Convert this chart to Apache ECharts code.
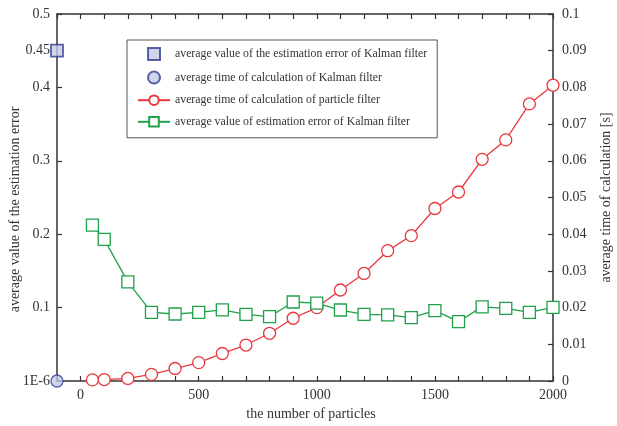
<!DOCTYPE html>
<html>
<head>
<meta charset="utf-8">
<script src="https://cdn.jsdelivr.net/npm/echarts@6/dist/echarts.min.js"></script>
<style>
html, body { margin: 0; padding: 0; background: #fff; }
#chart { width: 617px; height: 426px; }
</style>
</head>
<body>
<div id="chart"></div>
<script>
// particle counts
var particles = [50, 100, 200, 300, 400, 500, 600, 700, 800, 900, 1000,
    1100, 1200, 1300, 1400, 1500, 1600, 1700, 1800, 1900, 2000];
// average time of calculation of particle filter [s] (right axis)
var pfTime = [0.0003, 0.0004, 0.0007, 0.0018, 0.0034, 0.005, 0.0075, 0.0098, 0.013, 0.0171, 0.020,
    0.0248, 0.0293, 0.0355, 0.0396, 0.047, 0.0515, 0.0604, 0.0657, 0.0755, 0.0806];
// average value of estimation error (left axis)
var pfError = [0.2125, 0.193, 0.135, 0.0936, 0.0913, 0.0936, 0.097, 0.0908, 0.0876, 0.1076, 0.106,
    0.0967, 0.0908, 0.090, 0.0863, 0.0958, 0.081, 0.101, 0.099, 0.0936, 0.1004];
// Kalman filter reference points, drawn on the left axis
var kalmanX = -100;
var kalmanError = 0.45;
var kalmanTime = 0;

var leftLabels = [0, 0.1, 0.2, 0.3, 0.4, 0.45, 0.5];
var leftTicks = [0, 0.1, 0.2, 0.3, 0.4, 0.5];
var xLabels = [0, 500, 1000, 1500, 2000];

var names = [
    'average value of the estimation error of Kalman filter',
    'average time of calculation of Kalman filter',
    'average time of calculation of particle filter',
    'average value of estimation error of Kalman filter'
];

var font = 'Liberation Serif';
var ink = '#333';
var red = '#e8383d';
var green = '#1fa04a';
var navy = '#2f3c94';
var lilac = '#c5c9e6';

var axisLine = {show: true, onZero: false, lineStyle: {color: ink, width: 1.5}};
var tick = {inside: true, length: 5, lineStyle: {color: ink, width: 1.2}};

var option = {
    animation: false,
    textStyle: {fontFamily: font},
    grid: {left: 57, right: 64, top: 14, bottom: 45, outerBoundsMode: 'none'},
    legend: {
        orient: 'vertical',
        left: 127,
        top: 40,
        padding: [7, 10, 10, 10],
        itemWidth: 32,
        itemHeight: 12,
        itemGap: 9.6,
        borderColor: '#555',
        borderWidth: 1,
        textStyle: {fontFamily: font, fontSize: 11.8, color: ink},
        data: [
            // square icon kept 12x12 inside the 32px slot
            {name: names[0], icon: 'path://M0,0M32,12M10,0L22,0L22,12L10,12Z'},
            names[1], names[2], names[3]
        ]
    },
    xAxis: [
        {
            type: 'value',
            min: -100,
            max: 2000,
            interval: 100,
            name: 'the number of particles',
            nameLocation: 'middle',
            nameGap: 22,
            nameTextStyle: {fontFamily: font, fontSize: 14, color: ink, padding: [0, 0, 0, 12]},
            axisLine: axisLine,
            axisTick: tick,
            axisLabel: {
                customValues: xLabels, fontFamily: font, fontSize: 14, color: ink, margin: 7,
                formatter: function (v) { return String(v); }
            },
            splitLine: {show: false}
        },
        {
            type: 'value',
            position: 'top',
            min: -100,
            max: 2000,
            interval: 100,
            axisLine: axisLine,
            axisTick: tick,
            axisLabel: {show: false},
            splitLine: {show: false}
        }
    ],
    yAxis: [
        {
            type: 'value',
            min: 0,
            max: 0.5,
            name: 'average value of the estimation error',
            nameLocation: 'middle',
            nameGap: 35,
            nameMoveOverlap: false,
            nameTextStyle: {fontFamily: font, fontSize: 14, color: ink, padding: [0, 24, 0, 0]},
            axisLine: axisLine,
            axisTick: Object.assign({customValues: leftTicks}, tick),
            axisLabel: {
                customValues: leftLabels,
                fontFamily: font, fontSize: 14, color: ink, margin: 7,
                formatter: function (v) { return v === 0 ? '1E-6' : String(v); }
            },
            splitLine: {show: false}
        },
        {
            type: 'value',
            position: 'right',
            min: 0,
            max: 0.1,
            interval: 0.01,
            name: 'average time of calculation [s]',
            nameLocation: 'middle',
            nameGap: 46,
            nameTextStyle: {fontFamily: font, fontSize: 14, color: ink},
            axisLine: axisLine,
            axisTick: tick,
            axisLabel: {
                fontFamily: font, fontSize: 14, color: ink, margin: 9,
                formatter: function (v) { return String(+v.toFixed(2)); }
            },
            splitLine: {show: false}
        }
    ],
    series: [
        {
            name: names[0],
            type: 'scatter',
            clip: false,
            symbol: 'rect',
            symbolSize: 12,
            itemStyle: {color: lilac, borderColor: navy, borderWidth: 1.8},
            data: [[kalmanX, kalmanError]],
            z: 5
        },
        {
            name: names[1],
            type: 'scatter',
            clip: false,
            symbol: 'circle',
            symbolSize: 12,
            itemStyle: {color: lilac, borderColor: navy, borderWidth: 1.3},
            data: [[kalmanX, kalmanTime]],
            z: 5
        },
        {
            name: names[2],
            type: 'line',
            yAxisIndex: 1,
            symbol: 'circle',
            symbolSize: 12,
            showAllSymbol: true,
            lineStyle: {color: red, width: 1.3},
            itemStyle: {color: '#fff', borderColor: red, borderWidth: 1.3},
            data: particles.map(function (p, i) { return [p, pfTime[i]]; })
        },
        {
            name: names[3],
            type: 'line',
            yAxisIndex: 0,
            symbol: 'rect',
            symbolSize: 12,
            showAllSymbol: true,
            lineStyle: {color: green, width: 1.3},
            itemStyle: {color: '#fff', borderColor: green, borderWidth: 1.3},
            data: particles.map(function (p, i) { return [p, pfError[i]]; })
        }
    ]
};

var chart = echarts.init(document.getElementById('chart'));
chart.setOption(option);
</script>
</body>
</html>
